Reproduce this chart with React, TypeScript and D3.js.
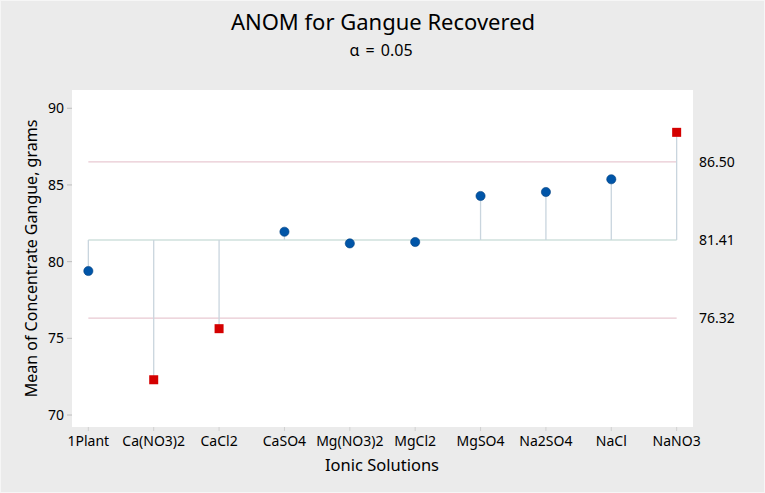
import * as d3 from 'd3';

const categories = ['1Plant', 'Ca(NO3)2', 'CaCl2', 'CaSO4', 'Mg(NO3)2', 'MgCl2', 'MgSO4', 'Na2SO4', 'NaCl', 'NaNO3'];
const means = [79.39, 72.3, 75.63, 81.95, 81.19, 81.28, 84.28, 84.54, 85.37, 88.43];
const yTicks = [70, 75, 80, 85, 90];
const centerLine = 81.41;
const upperLimit = 86.5;
const lowerLimit = 76.32;

const W = 765;
const H = 493;
const plot = { left: 72, right: 693, top: 90, bottom: 427 };
const font = "'Noto Sans', 'Open Sans', sans-serif";

export default function App() {
  const x = d3.scaleLinear().domain([-0.25, 9.25]).range([plot.left, plot.right]);
  const y = d3.scaleLinear().domain([69.22, 91.19]).range([plot.bottom, plot.top]);
  const x0 = x(0);
  const x1 = x(categories.length - 1);

  const outside = (v: number) => v > upperLimit || v < lowerLimit;

  return (
    <svg width={W} height={H} style={{ position: 'absolute', left: 0, top: 0 }} fontFamily={font}>
      <rect x={0.5} y={0.5} width={W - 1} height={H - 1} fill="#ebebeb" stroke="#f6f6f6" />
      <rect x={plot.left} y={plot.top} width={plot.right - plot.left} height={plot.bottom - plot.top} fill="#fff" />

      <text x={383} y={30} textAnchor="middle" fontSize={22} fill="#000">ANOM for Gangue Recovered</text>
      <text x={381} y={56} textAnchor="middle" fontSize={16} wordSpacing={2} fill="#000">α = 0.05</text>

      {/* y axis */}
      {yTicks.map(t => (
        <g key={t}>
          <line x1={plot.left - 5} x2={plot.left} y1={y(t)} y2={y(t)} stroke="#bdbdbd" />
          <text x={plot.left - 8} y={y(t)} dy="0.35em" textAnchor="end" fontSize={14}>{t}</text>
        </g>
      ))}
      <text transform={`translate(37,${(plot.top + plot.bottom) / 2}) rotate(-90)`} textAnchor="middle" fontSize={16}>
        Mean of Concentrate Gangue, grams
      </text>

      {/* x axis */}
      {categories.map((c, i) => (
        <g key={c}>
          <line x1={x(i)} x2={x(i)} y1={plot.bottom} y2={plot.bottom + 4} stroke="#d0d0d0" />
          <text x={x(i)} y={446} textAnchor="middle" fontSize={14}>{c}</text>
        </g>
      ))}
      <text x={382} y={471} textAnchor="middle" fontSize={16.5}>Ionic Solutions</text>

      {/* limits */}
      <line x1={x0} x2={x1} y1={y(upperLimit)} y2={y(upperLimit)} stroke="#e8c9d2" strokeWidth={1.2} />
      <line x1={x0} x2={x1} y1={y(lowerLimit)} y2={y(lowerLimit)} stroke="#e8c9d2" strokeWidth={1.2} />
      <line x1={x0} x2={x1} y1={y(centerLine)} y2={y(centerLine)} stroke="#cfe0dc" strokeWidth={1.5} />
      <text x={699} y={y(upperLimit)} dy="0.35em" fontSize={14}>{upperLimit.toFixed(2)}</text>
      <text x={699} y={y(centerLine)} dy="0.35em" fontSize={14}>{centerLine.toFixed(2)}</text>
      <text x={699} y={y(lowerLimit)} dy="0.35em" fontSize={14}>{lowerLimit.toFixed(2)}</text>

      {/* stems and points */}
      {means.map((m, i) => (
        <line key={'s' + i} x1={x(i)} x2={x(i)} y1={y(centerLine)} y2={y(m)} stroke="#c9d5de" strokeWidth={1.3} />
      ))}
      {means.map((m, i) =>
        outside(m) ? (
          <rect key={'p' + i} x={x(i) - 4.5} y={y(m) - 4.5} width={9} height={9} fill="#d40000" />
        ) : (
          <circle key={'p' + i} cx={x(i)} cy={y(m)} r={4.6} fill="#0055a8" stroke="#003f80" strokeWidth={0.6} />
        )
      )}
    </svg>
  );
}
